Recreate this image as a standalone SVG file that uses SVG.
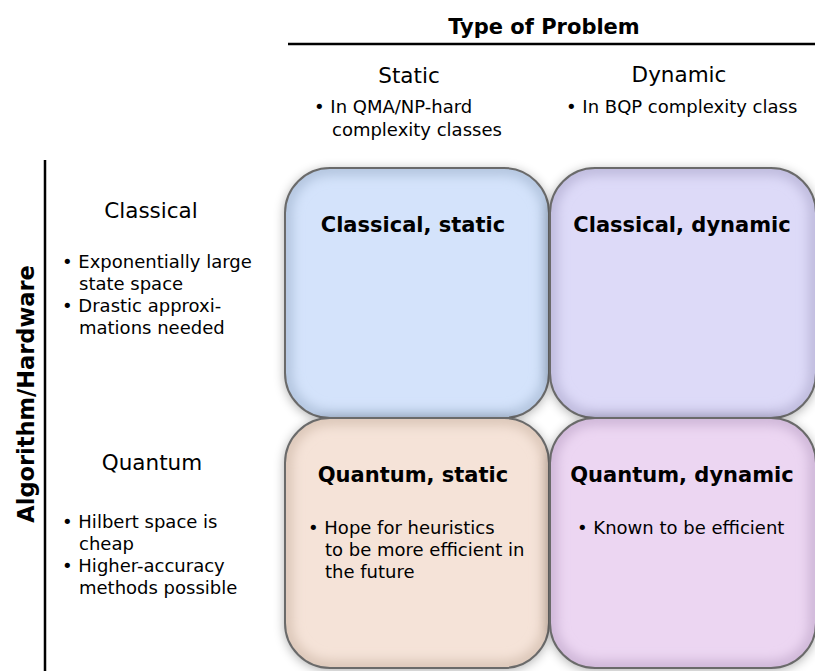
<svg xmlns="http://www.w3.org/2000/svg" width="815" height="671" viewBox="0 0 815 671">
<style>
text{font-family:"DejaVu Sans","Verdana",sans-serif;fill:#000}
.h{font-size:21px;font-weight:bold}
.ax{font-size:22.5px;font-weight:bold}
.c{font-size:21.5px}
.b{font-size:18px}
.t{font-size:21px;font-weight:bold;text-anchor:middle}
.box{stroke:#6a6a6a;stroke-width:2}
.glow{fill:none;stroke-width:14;filter:url(#blur)}
</style>
<defs>
<filter id="shadow" x="-20%" y="-20%" width="140%" height="140%">
<feGaussianBlur in="SourceAlpha" stdDeviation="6"/>
<feOffset dx="0" dy="2"/>
<feComponentTransfer><feFuncA type="linear" slope="0.35"/></feComponentTransfer>
<feMerge><feMergeNode/><feMergeNode in="SourceGraphic"/></feMerge>
</filter>
<filter id="blur" x="-10%" y="-10%" width="120%" height="120%"><feGaussianBlur stdDeviation="6"/></filter>
<clipPath id="c1"><rect x="285" y="168" width="264" height="250" rx="45"/></clipPath>
<clipPath id="c2"><rect x="550" y="168" width="266" height="250" rx="45"/></clipPath>
<clipPath id="c3"><rect x="285" y="418" width="264" height="250" rx="45"/></clipPath>
<clipPath id="c4"><rect x="550" y="418" width="266" height="250" rx="45"/></clipPath>
</defs>

<g id="header">
<text class="h" x="544" y="34" text-anchor="middle">Type of Problem</text>
<line x1="288" y1="44" x2="815" y2="44" stroke="#000" stroke-width="2.5"/>
<text class="c" x="409" y="83" text-anchor="middle">Static</text>
<text class="b" x="314" y="113">• In QMA/NP-hard</text>
<text class="b" x="332" y="136">complexity classes</text>
<text class="c" x="679" y="82" text-anchor="middle">Dynamic</text>
<text class="b" x="566" y="113">• In BQP complexity class</text>
</g>

<g id="axis">
<line x1="45" y1="160" x2="45" y2="671" stroke="#000" stroke-width="2.5"/>
<text class="ax" transform="translate(34,394) rotate(-90)" text-anchor="middle">Algorithm/Hardware</text>
</g>

<g id="row-classical">
<text class="c" x="151" y="218" text-anchor="middle">Classical</text>
<text class="b" x="62" y="268">• Exponentially large</text>
<text class="b" x="79" y="290">state space</text>
<text class="b" x="62" y="312">• Drastic approxi-</text>
<text class="b" x="79" y="334">mations needed</text>
</g>

<g id="row-quantum">
<text class="c" x="152" y="470" text-anchor="middle">Quantum</text>
<text class="b" x="62" y="528">• Hilbert space is</text>
<text class="b" x="79" y="550">cheap</text>
<text class="b" x="62" y="572">• Higher-accuracy</text>
<text class="b" x="79" y="594">methods possible</text>
</g>

<g id="classical-static">
<rect x="285" y="168" width="264" height="250" rx="45" fill="#d4e3fb" filter="url(#shadow)"/>
<g clip-path="url(#c1)"><rect class="glow" x="285" y="168" width="264" height="250" rx="45" stroke="#b0c2dc"/></g>
<rect class="box" x="285" y="168" width="264" height="250" rx="45" fill="none"/>
<text class="t" x="413" y="232">Classical, static</text>
</g>

<g id="classical-dynamic">
<rect x="550" y="168" width="266" height="250" rx="45" fill="#dddaf8" filter="url(#shadow)"/>
<g clip-path="url(#c2)"><rect class="glow" x="550" y="168" width="266" height="250" rx="45" stroke="#bcb8da"/></g>
<rect class="box" x="550" y="168" width="266" height="250" rx="45" fill="none"/>
<text class="t" x="682" y="232">Classical, dynamic</text>
</g>

<g id="quantum-static">
<rect x="285" y="418" width="264" height="250" rx="45" fill="#f5e3d8" filter="url(#shadow)"/>
<g clip-path="url(#c3)"><rect class="glow" x="285" y="418" width="264" height="250" rx="45" stroke="#d9c4b6"/></g>
<rect class="box" x="285" y="418" width="264" height="250" rx="45" fill="none"/>
<text class="t" x="413" y="482">Quantum, static</text>
<text class="b" x="308" y="534">• Hope for heuristics</text>
<text class="b" x="325" y="556">to be more efficient in</text>
<text class="b" x="325" y="578">the future</text>
</g>

<g id="quantum-dynamic">
<rect x="550" y="418" width="266" height="250" rx="45" fill="#ecd6f2" filter="url(#shadow)"/>
<g clip-path="url(#c4)"><rect class="glow" x="550" y="418" width="266" height="250" rx="45" stroke="#ccb4d5"/></g>
<rect class="box" x="550" y="418" width="266" height="250" rx="45" fill="none"/>
<text class="t" x="682" y="482">Quantum, dynamic</text>
<text class="b" x="577" y="534">• Known to be efficient</text>
</g>

<g id="connectors"/>
</svg>
